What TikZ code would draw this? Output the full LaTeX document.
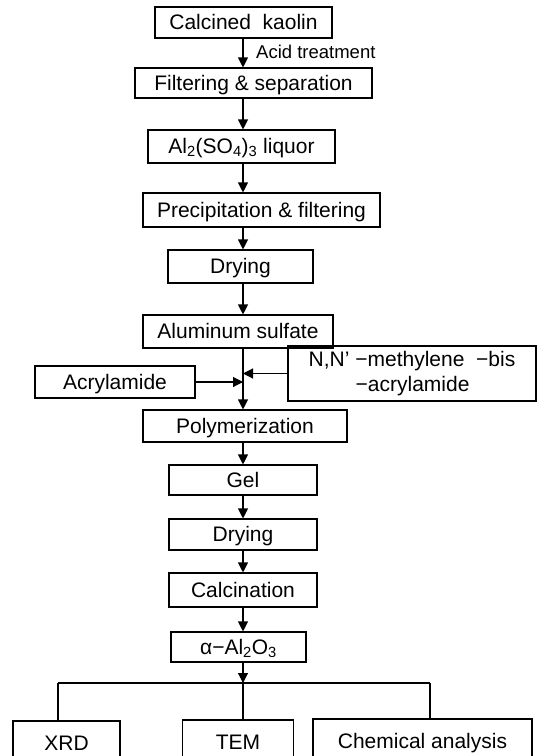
\documentclass[tikz,border=0pt]{standalone}
\usepackage{fontspec}
\setmainfont{Liberation Sans}
\usetikzlibrary{arrows.meta}
\begin{document}
\begin{tikzpicture}[x=1pt,y=-1pt,
  box/.style={draw, line width=1.1pt, inner sep=0pt, font=\fontsize{21}{25}\selectfont},
  onel/.style={text height=16pt, text depth=2pt},
  arr/.style={line width=1.1pt, -{Triangle[length=10pt,width=10pt]}},
  ln/.style={line width=1.1pt}]
\useasboundingbox (0,0) rectangle (542,756);
\clip (0,0) rectangle (542,756);
\coordinate (axis) at (243,0);
\node[box, onel, minimum width=177pt, minimum height=31pt] (calc) at (243.5,22.5) {Calcined\ \ kaolin};
\node[box, onel, minimum width=237pt, minimum height=30pt] (filt) at (253.5,83) {Filtering \& separation};
\node[box, onel, minimum width=187pt, minimum height=33pt] (al2) at (241.5,146.5) {Al\textsubscript{2}(SO\textsubscript{4})\textsubscript{3} liquor};
\node[box, onel, minimum width=237pt, minimum height=34pt] (prec) at (261.5,210) {Precipitation \& filtering};
\node[box, onel, minimum width=145pt, minimum height=33pt] (dry1) at (240.5,266.5) {Drying};
\node[box, onel, minimum width=190pt, minimum height=33pt] (alsulf) at (238,331.5) {Aluminum sulfate};
\node[box, minimum width=248pt, minimum height=55pt, align=left] (nn) at (412,373.5) {N,N’ −methylene\ \ −bis\\\hspace*{47pt}−acrylamide};
\node[box, onel, minimum width=160pt, minimum height=32pt] (acryl) at (115,382) {Acrylamide};
\node[box, onel, minimum width=204pt, minimum height=32pt] (poly) at (245,426) {Polymerization};
\node[box, onel, minimum width=148pt, minimum height=30pt] (gel) at (243,480) {Gel};
\node[box, onel, minimum width=148pt, minimum height=31pt] (dry2) at (243,534.5) {Drying};
\node[box, onel, minimum width=148pt, minimum height=34pt] (calcn) at (243,590) {Calcination};
\node[box, onel, minimum width=135pt, minimum height=30pt] (alpha) at (238.5,647) {α−Al\textsubscript{2}O\textsubscript{3}};
\node[box, onel, minimum width=107pt, minimum height=44pt] (xrd) at (66.5,743) {XRD};
\node[box, onel, minimum width=111pt, minimum height=44pt] (tem) at (238,742) {TEM};
\node[box, onel, minimum width=219pt, minimum height=44pt] (chem) at (422.5,741) {Chemical analysis};
\node[anchor=west, inner sep=0pt, font=\fontsize{18.5}{21}\selectfont] (acid) at (256,52) {Acid treatment};
% main arrows
\draw[arr] (axis |- calc.south) -- (axis |- filt.north);
\draw[arr] (axis |- filt.south) -- (axis |- al2.north);
\draw[arr] (axis |- al2.south) -- (axis |- prec.north);
\draw[arr] (axis |- prec.south) -- (axis |- dry1.north);
\draw[arr] (axis |- dry1.south) -- (axis |- alsulf.north);
\draw[arr] (axis |- alsulf.south) -- (axis |- poly.north);
\coordinate (jn) at (axis |- nn.west);
\coordinate (ja) at (axis |- acryl.east);
\draw[arr] (nn.west) -- (jn);
\draw[arr] (acryl.east) -- (ja);
\draw[arr] (axis |- poly.south) -- (axis |- gel.north);
\draw[arr] (axis |- gel.south) -- (axis |- dry2.north);
\draw[arr] (axis |- dry2.south) -- (axis |- calcn.north);
\draw[arr] (axis |- calcn.south) -- (axis |- alpha.north);
% distribution
\coordinate (hm) at (243,683);
\coordinate (hl) at (58,683);
\coordinate (hr) at (430,683);
\draw[arr] (axis |- alpha.south) -- (hm);
\draw[ln] (hl) -- (hr);
\draw[ln] (hl) -- (hl |- xrd.north);
\draw[ln] (hm) -- (hm |- tem.north);
\draw[ln] (hr) -- (hr |- chem.north);
\end{tikzpicture}
\end{document}
